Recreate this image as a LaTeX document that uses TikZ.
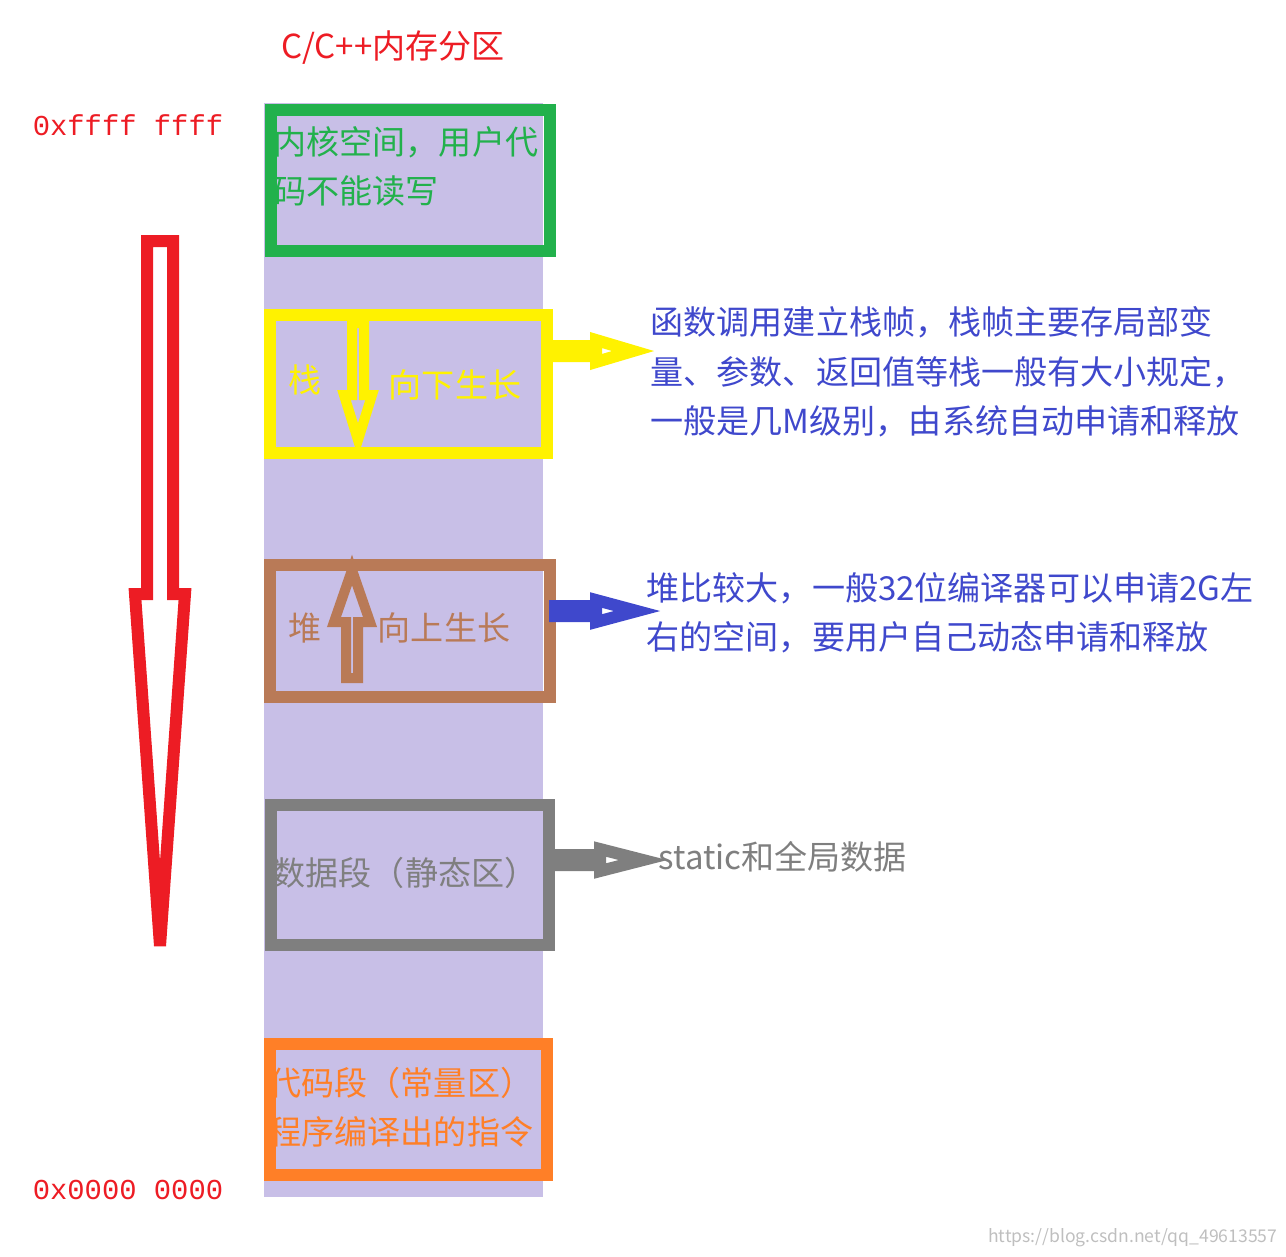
\documentclass[tikz,border=0pt]{standalone}
\usepackage{fontspec}
\setmainfont{Noto Sans CJK SC}
\setmonofont{Liberation Mono}
\usetikzlibrary{calc, positioning}

\definecolor{colPurple}{RGB}{200,191,231}
\definecolor{colGreen}{RGB}{34,177,76}
\definecolor{colYellow}{RGB}{255,242,0}
\definecolor{colBrown}{RGB}{185,122,87}
\definecolor{colGray}{RGB}{127,127,127}
\definecolor{colOrange}{RGB}{255,127,39}
\definecolor{colBlue}{RGB}{63,72,204}
\definecolor{colRed}{RGB}{237,28,36}

% hollow block arrow pointing right: #1 style, #2 start point, #3 length
\newcommand{\rblock}[3]{%
  \draw[#1, line width=1.2mm] ($#2+(0,-0.05)$) -- ++(#3-0.3,0) -- ++(0,-0.05)
    -- ($#2+(#3,0)$) -- ($#2+(#3-0.3,0.1)$) -- ++(0,-0.05) -- ($#2+(0,0.05)$) -- cycle;}

\tikzset{
  region/.style={draw, line width=1.2mm, minimum width=2.79cm, anchor=north west, inner sep=0pt},
  cn/.style={font=\fontsize{9.4}{14}\selectfont, inner sep=0pt},
  hex/.style={font=\ttfamily\fontsize{8.2}{10}\selectfont, text=colRed, inner sep=0pt}
}

\begin{document}
\begin{tikzpicture}[x=0.01cm, y=-0.01cm]
    \useasboundingbox (0,0) rectangle (1286,1256);

    % --- Column background ---
    \fill[colPurple] (264,103) rectangle (543,1197);

    % --- Title and addresses ---
    \node[cn, text=colRed] (title) at (393,48) {C/C++内存分区};
    \node[hex] (top) at (128,125) {0xffff ffff};
    \node[hex] (bottom) at (128,1190) {0x0000 0000};

    % --- Regions ---
    \node[region, draw=colGreen, minimum height=1.41cm] (kernel) at (265,104) {};
    \node[cn, text=colGreen, align=left, anchor=north west] (kerneltext) at (273,126)
      {内核空间，用户代\\码不能读写};

    \node[region, draw=colYellow, minimum width=2.77cm, minimum height=1.38cm] (stack) at (264,309) {};
    \node[cn, text=colYellow] (stacklabel) at (305,380) {栈};
    \node[cn, text=colYellow] (stackdir) at (455,385) {向下生长};

    \node[region, draw=colBrown, minimum width=2.80cm, minimum height=1.32cm] (heap) at (264,559) {};
    \node[cn, text=colBrown] (heaplabel) at (305,628) {堆};
    \node[cn, text=colBrown] (heapdir) at (444,628) {向上生长};

    \node[region, draw=colGray, minimum width=2.78cm, minimum height=1.40cm] (data) at (265,799) {};
    \node[cn, text=colGray] (datatext) at (405,873) {数据段（静态区）};

    \node[region, draw=colOrange, minimum width=2.77cm, minimum height=1.31cm] (code) at (264,1038) {};
    \node[cn, text=colOrange, align=left, anchor=north west] (codetext) at (268,1066)
      {代码段（常量区）\\程序编译出的指令};

    % --- Growth arrows inside regions ---
    \draw[colYellow, line width=1mm] (352,323) -- (364,323) -- (364,395) -- (372,395)
      -- (358,440) -- (344,395) -- (352,395) -- cycle;
    \draw[colBrown, line width=1mm] (346,678) -- (358,678) -- (358,622) -- (370,622)
      -- (352,570) -- (334,622) -- (346,622) -- cycle;

    % --- Big address arrow ---
    \draw[colRed, line width=1.2mm] (147,241) -- (173,241) -- (173,594) -- (185,594)
      -- (160,946) -- (135,594) -- (147,594) -- cycle;

    % --- Pointer arrows ---
    \draw[colYellow, line width=1.2mm] (555,346) -- (596,346) -- (596,340) -- (633,351)
      -- (596,362) -- (596,356) -- (555,356) -- cycle;
    \draw[colBlue, line width=1.2mm] (555,606) -- (596,606) -- (596,600) -- (637,611)
      -- (596,622) -- (596,616) -- (555,616) -- cycle;
    \draw[colGray, line width=1.2mm] (559,855) -- (600,855) -- (600,849) -- (643,860)
      -- (600,871) -- (600,865) -- (559,865) -- cycle;

    % --- Notes ---
    \node[cn, text=colBlue, align=left, anchor=north west] (stacknote) at (650,306)
      {函数调用建立栈帧，栈帧主要存局部变\\量、参数、返回值等栈一般有大小规定，\\一般是几M级别，由系统自动申请和释放};
    \node[cn, text=colBlue, align=left, anchor=north west] (heapnote) at (646,572)
      {堆比较大，一般32位编译器可以申请2G左\\右的空间，要用户自己动态申请和释放};
    \node[cn, text=colGray, anchor=west] (datanote) at (658,857) {static和全局数据};

    % --- Watermark ---
    \node[font=\fontsize{5}{6}\selectfont, text=black!25, anchor=east, inner sep=0pt] (mark)
      at (1278,1238) {https://blog.csdn.net/qq\_49613557};
\end{tikzpicture}
\end{document}
